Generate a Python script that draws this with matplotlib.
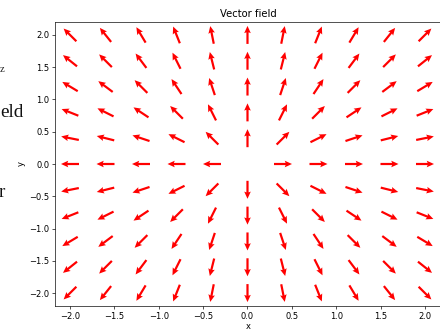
import numpy as np
import matplotlib
matplotlib.use("Agg")
import matplotlib.pyplot as plt

# grid positions of the arrows
grid_x = [-2.0, -1.6, -1.2, -0.8, -0.4, 0.0, 0.4, 0.8, 1.2, 1.6, 2.0]
grid_y = [-2.0, -1.6, -1.2, -0.8, -0.4, 0.0, 0.4, 0.8, 1.2, 1.6, 2.0]

X, Y = np.meshgrid(grid_x, grid_y)
R = np.hypot(X, Y)
with np.errstate(invalid="ignore", divide="ignore"):
    U = np.where(R > 0, X / R, np.nan)   # radial unit field
    V = np.where(R > 0, Y / R, np.nan)

W, H = 440, 331
fig = plt.figure(figsize=(W / 60, H / 60), dpi=60)
ax = fig.add_axes([55 / W, 25 / H, 386.5 / W, 284 / H])

ax.quiver(X, Y, U, V, color="red", pivot="mid", angles="uv",
          scale_units="dots", scale=1 / 18, units="dots", width=2.2,
          headwidth=3, headlength=3.3, headaxislength=2.9)

ax.set_xlim(-2.169, 2.186)
ax.set_ylim(-2.2, 2.2)
ax.set_xticks([-2.0, -1.5, -1.0, -0.5, 0.0, 0.5, 1.0, 1.5, 2.0])
ax.set_yticks([-2.0, -1.5, -1.0, -0.5, 0.0, 0.5, 1.0, 1.5, 2.0])
ax.set_title("Vector field")
ax.set_xlabel("x", labelpad=1)
ax.set_ylabel("y")

# fragments of surrounding document visible at the left edge
fig.text(0 / W, 1 - 72 / H, "z", family="Liberation Serif", fontsize=13, color="#222222")
fig.text(0 / W, 1 - 117 / H, "eld", family="Liberation Serif", fontsize=23, color="#111111")
fig.text(-1 / W, 1 - 197 / H, "r", family="Liberation Serif", fontsize=23, color="#111111")

fig.savefig("out.png", dpi=60)
